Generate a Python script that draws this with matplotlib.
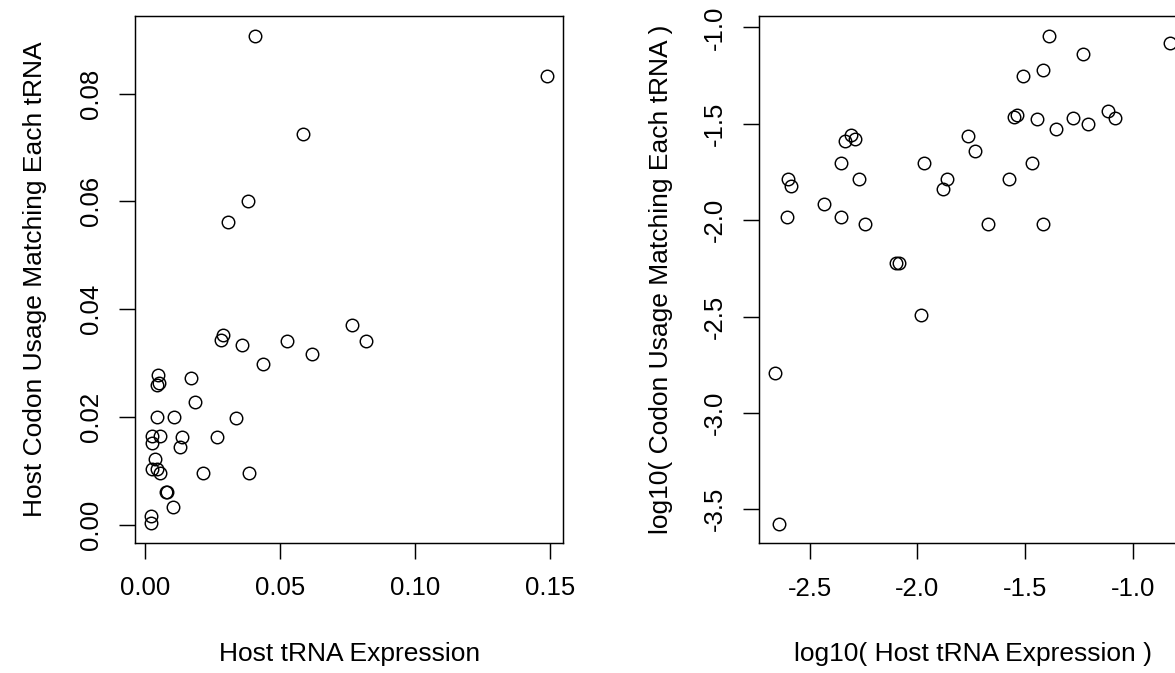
import numpy as np
import matplotlib
matplotlib.use("Agg")
import matplotlib.pyplot as plt

# Data
host_trna = [0.0406, 0.1490, 0.0585, 0.0383, 0.0308, 0.0280, 0.0288, 0.0360, 0.0438,
             0.0524, 0.0617, 0.0768, 0.0820, 0.00493, 0.00461, 0.00511, 0.0171, 0.0184,
             0.00440, 0.0107, 0.00538, 0.00252, 0.00259, 0.0137, 0.0131, 0.0267, 0.0338,
             0.00368, 0.00248, 0.00443, 0.00570, 0.0213, 0.0384, 0.00796, 0.00825,
             0.01037, 0.00218, 0.00229]
codon_usage = [0.0908, 0.0833, 0.0726, 0.0600, 0.0561, 0.0342, 0.0352, 0.0334, 0.0299,
               0.0341, 0.0316, 0.0370, 0.0341, 0.0277, 0.0259, 0.0263, 0.0272, 0.0228,
               0.0199, 0.0199, 0.0164, 0.0164, 0.0151, 0.0163, 0.0145, 0.0163, 0.0198,
               0.0122, 0.0104, 0.0104, 0.00957, 0.00957, 0.00957, 0.00598, 0.00598,
               0.00324, 0.00162, 0.000266]

left_xticks = [0.00, 0.05, 0.10, 0.15]
left_yticks = [0.00, 0.02, 0.04, 0.06, 0.08]
right_xticks = [-2.5, -2.0, -1.5, -1.0]
right_yticks = [-3.5, -3.0, -2.5, -2.0, -1.5, -1.0]

plt.rcParams['font.family'] = ['Liberation Sans', 'DejaVu Sans']

W, H = 1175, 673
fig = plt.figure(figsize=(W / 100, H / 100), dpi=100)

def r_lim(v):
    v = np.asarray(v)
    lo, hi = v.min(), v.max()
    d = (hi - lo) * 0.04
    return lo - d, hi + d

def make_axes(x0, x1, y0, y1):
    return fig.add_axes([x0 / W, 1 - y1 / H, (x1 - x0) / W, (y1 - y0) / H])

def style(ax, xt, yt, xfmt, yfmt, xlabel, ylabel):
    for s in ax.spines.values():
        s.set_linewidth(1.05)
    ax.set_xticks(xt)
    ax.set_xticklabels([xfmt.format(t) for t in xt])
    ax.set_yticks(yt)
    ax.set_yticklabels([yfmt.format(t) for t in yt], rotation=90, va='center')
    ax.tick_params(axis='both', direction='out', length=11.8, width=1.05,
                   labelsize=18.5, colors='black')
    ax.tick_params(axis='x', pad=12.5)
    ax.tick_params(axis='y', pad=11.5)
    ax.set_xlabel(xlabel, fontsize=19)
    ax.set_ylabel(ylabel, fontsize=19)
    ax.xaxis.label.set_va('center')
    ax.yaxis.label.set_va('center')

# Left panel
ax1 = make_axes(135, 563.3, 16, 542.7)
ax1.plot(host_trna, codon_usage, linestyle='none', marker='o', ms=9.0,
         mfc='none', mec='black', mew=1.05)
ax1.set_xlim(*r_lim(host_trna))
ax1.set_ylim(*r_lim(codon_usage))
style(ax1, left_xticks, left_yticks, "{:.2f}", "{:.2f}",
      "Host tRNA Expression", "Host Codon Usage Matching Each tRNA")
ax1.xaxis.set_label_coords(0.5, -(654 - 542.7) / (542.7 - 16))
ax1.yaxis.set_label_coords(-(135 - 35) / (563.3 - 135), 0.5)

# Right panel (log10)
lx = np.log10(host_trna)
ly = np.log10(codon_usage)
ax2 = make_axes(759, 1186.3, 16, 543.3)
ax2.plot(lx, ly, linestyle='none', marker='o', ms=9.0,
         mfc='none', mec='black', mew=1.05)
ax2.set_xlim(*r_lim(lx))
ax2.set_ylim(*r_lim(ly))
style(ax2, right_xticks, right_yticks, "{:.1f}", "{:.1f}",
      "log10( Host tRNA Expression )", "log10( Codon Usage Matching Each tRNA )")
ax2.xaxis.set_label_coords(0.5, -(654 - 543.3) / (543.3 - 16))
ax2.yaxis.set_label_coords(-(759 - 661) / (1186.3 - 759), 0.5)

fig.savefig("out.png", dpi=100, facecolor='white')
